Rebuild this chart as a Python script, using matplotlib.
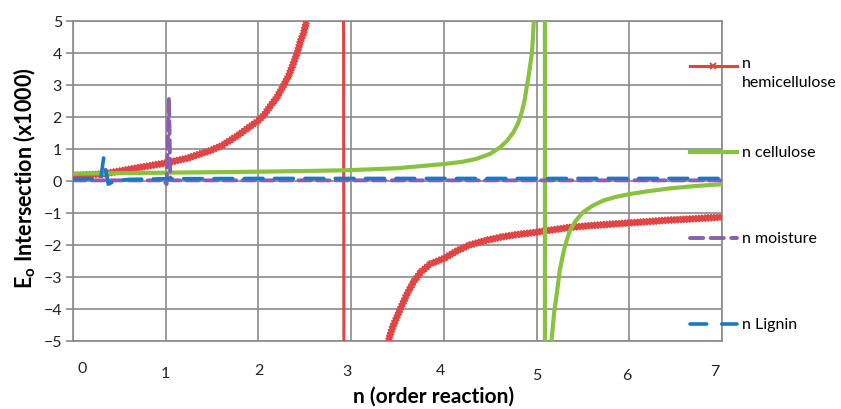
import numpy as np
import matplotlib.pyplot as plt
import matplotlib.patheffects as pe
from matplotlib.lines import Line2D

plt.rcParams["font.family"] = ["Lato", "DejaVu Sans"]

# E0 intersection (x1000) against reaction order n, one branch pair per component
n_hemi = [0.0, 0.33, 0.69, 1.0, 1.23, 1.48, 1.6, 1.69, 1.78, 1.87, 2.0, 2.07, 2.13, 2.2, 2.27,
          2.33, 2.38, 2.42, 2.45, 2.49, 2.52,
          2.90, 2.94,
          3.40, 3.45, 3.53, 3.6, 3.67, 3.75, 3.85, 4.0, 4.15, 4.28, 4.45, 4.64, 4.8, 5.0,
          5.36, 5.6, 6.0, 6.2, 6.44, 6.7, 7.0]
e_hemi = [0.17, 0.22, 0.41, 0.56, 0.71, 0.95, 1.1, 1.26, 1.43, 1.62, 1.89, 2.1, 2.35, 2.62, 2.98,
          3.32, 3.7, 4.02, 4.33, 4.65, 5.0,
          60.0, -60.0,
          -5.0, -4.55, -4.0, -3.55, -3.17, -2.85, -2.6, -2.42, -2.17, -2.0, -1.86, -1.74, -1.67,
          -1.6, -1.45, -1.39, -1.31, -1.27, -1.22, -1.18, -1.13]

n_cell = [0.0, 1.0, 2.0, 2.66, 3.0, 3.5, 4.0, 4.2, 4.35, 4.5, 4.61, 4.68, 4.75, 4.8, 4.84,
          4.87, 4.89, 4.91, 4.93, 4.95, 4.96, 4.97,
          5.085, 5.095,
          5.16, 5.19, 5.22, 5.25, 5.29, 5.32, 5.36, 5.42, 5.5, 5.6, 5.72, 5.85, 6.0, 6.2,
          6.44, 6.7, 7.0]
e_cell = [0.23, 0.26, 0.29, 0.32, 0.34, 0.40, 0.53, 0.6, 0.69, 0.85, 1.06, 1.25, 1.52, 1.8, 2.15,
          2.5, 2.87, 3.2, 3.6, 4.0, 4.44, 5.0,
          80.0, -80.0,
          -5.0, -4.1, -3.48, -2.8, -2.23, -1.9, -1.55, -1.25, -0.98, -0.78, -0.61, -0.5, -0.41,
          -0.32, -0.23, -0.16, -0.1]

n_moist = [0.0, 0.5, 0.97, 1.01, 1.035, 1.05, 1.1, 2.0, 3.0, 4.0, 5.0, 6.0, 7.0]
e_moist = [0.02, 0.02, 0.02, -0.1, 2.6, 0.03, 0.02, 0.02, 0.02, 0.02, 0.02, 0.02, 0.02]

n_lig = [0.0, 0.3, 0.33, 0.38, 0.45, 0.6, 1.0, 2.0, 3.0, 4.0, 5.0, 6.0, 7.0]
e_lig = [0.07, 0.07, 0.72, -0.1, 0.0, 0.05, 0.07, 0.08, 0.08, 0.08, 0.08, 0.08, 0.08]

xticks = [0, 1, 2, 3, 4, 5, 6, 7]
yticks = [-5, -4, -3, -2, -1, 0, 1, 2, 3, 4, 5]

labels = ["n\nhemicellulose", "n cellulose", "n moisture", "n Lignin"]

red = "#e04444"
green = "#88c23f"
purple = "#8a5fae"
blue = "#1c78c2"
grid_col = "#8a8a8a"

fig = plt.figure(figsize=(8.41, 4.10), dpi=100)
ax = fig.add_axes([73 / 841, 68 / 410, 649 / 841, 320 / 410])

# hemicellulose: plain line through the pole, then the dense "x" marker look on each branch
ax.plot(n_hemi, e_hemi, color=red, lw=2.2, zorder=3)
fuzz = [pe.withTickedStroke(spacing=2.2, angle=a, length=1.3, linewidth=1.1)
        for a in (45, 135, -45, -135)]
nh = np.array(n_hemi)
eh = np.array(e_hemi)
in_view = np.abs(eh) <= 10
pole = np.argmax(~in_view)
for sel in (slice(0, pole), slice(pole + 2, None)):
    ax.plot(nh[sel], eh[sel], color=red, lw=2.6, zorder=3,
            solid_joinstyle="round", path_effects=[pe.Normal()] + fuzz)

ax.plot(n_cell, e_cell, color=green, lw=3.0, solid_joinstyle="round", zorder=4)
ax.plot(n_moist, e_moist, color=purple, lw=2.8, dashes=(3.2, 1.6),
        dash_capstyle="round", zorder=5)
ax.plot(n_lig, e_lig, color=blue, lw=2.6, dashes=(5.2, 3.2),
        dash_capstyle="round", zorder=6)

ax.set_xlim(0, 7)
ax.set_ylim(-5, 5)
ax.set_xticks(xticks)
ax.set_yticks(yticks)
ax.grid(True, color=grid_col, lw=1.2, zorder=0)
for s in ax.spines.values():
    s.set_color(grid_col)
    s.set_linewidth(1.2)
ax.tick_params(axis="y", length=5, width=1.2, color=grid_col, pad=3,
               labelsize=11.5, labelcolor="#222222")
ax.tick_params(axis="x", length=0, labelbottom=False)

# x labels sit a little irregularly below the axis
x_shift = [9, 0, 0, -4, -3, 0, -2, -7]
y_shift = [-27, -32, -29, -30, -29, -34, -34, -30]
for v, dx, dy in zip(xticks, x_shift, y_shift):
    ax.annotate(str(v), xy=(v, -5), xytext=(dx * 0.72, dy * 0.72), textcoords="offset points",
                ha="center", va="center", fontsize=11.5, color="#222222")

fig.text(434 / 841, 1 - 397 / 410, "n (order reaction)", ha="center", va="center",
         fontsize=15, fontweight="bold")
fig.text(25 / 841, 1 - 178 / 410, r"E$_\mathregular{o}$ Intersection (x1000)",
         rotation=90, ha="center", va="center", fontsize=15.5, fontweight="bold")

# legend drawn by hand to the right of the plot
leg_y = [67, 153, 239, 325]
leg_style = [
    dict(color=red, lw=2.2),
    dict(color=green, lw=3.0),
    dict(color=purple, lw=2.8, dashes=(3.4, 1.9), dash_capstyle="round"),
    dict(color=blue, lw=2.6, dashes=(4.6, 4.2), dash_capstyle="round"),
]
for lab, y, st in zip(labels, leg_y, leg_style):
    yf = 1 - y / 410
    fig.add_artist(Line2D([690 / 841, 737 / 841], [yf, yf], transform=fig.transFigure, **st))
    if "\n" in lab:
        fig.text(742 / 841, 1 - (y - 10) / 410, lab, ha="left", va="top", fontsize=11.5,
                 linespacing=1.45)
    else:
        fig.text(742 / 841, yf, lab, ha="left", va="center", fontsize=11.5)
fig.add_artist(Line2D([713 / 841], [1 - 67 / 410], transform=fig.transFigure,
                      marker="x", ms=5, mew=1.4, color=red, lw=0))

fig.savefig("out.png", dpi=100)
